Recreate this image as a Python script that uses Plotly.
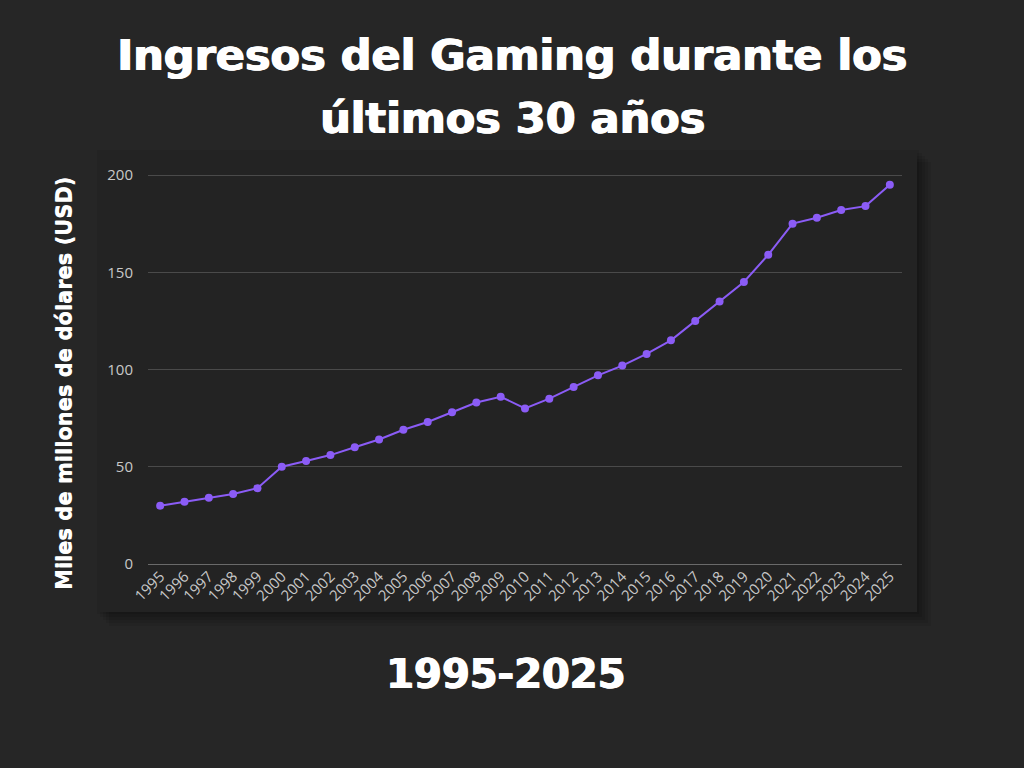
import plotly.graph_objects as go

years = [str(y) for y in range(1995, 2026)]
revenue = [30, 32, 34, 36, 39, 50, 53, 56, 60, 64, 69, 73, 78, 83, 86, 80,
           85, 91, 97, 102, 108, 115, 125, 135, 145, 159, 175, 178, 182, 184, 195]

title_lines = ["Ingresos del Gaming durante los", "últimos 30 años"]
y_title = "Miles de millones de dólares (USD)"
period = "1995-2025"

PAGE_BG = "#262626"
CARD_BG = "#232323"
PURPLE = "#8B5CF6"
HEAD_FONT = "DejaVu Sans"
W, H = 1024, 768
L, R, T, B = 148, 902, 165, 564  # plot area in pixels


def px2x(px):
    return (px - L) / (R - L)


def px2y(py):
    return (B - py) / (B - T)


fig = go.Figure()
fig.add_trace(go.Scatter(
    x=years, y=revenue, mode="lines+markers",
    line=dict(color=PURPLE, width=2),
    marker=dict(color=PURPLE, size=8),
    hoverinfo="x+y", showlegend=False))

# card with soft shadow
shapes = []
for i in range(5):
    off = 2 + i * 3
    shapes.append(dict(type="rect", xref="paper", yref="paper", layer="below",
                       x0=px2x(97 + off - 2), x1=px2x(917 + off),
                       y0=px2y(612 + off), y1=px2y(150 + off - 2),
                       fillcolor="rgba(0,0,0,0.08)", line_width=0))
shapes.append(dict(type="rect", xref="paper", yref="paper", layer="below",
                   x0=px2x(97), x1=px2x(917), y0=px2y(612), y1=px2y(150),
                   fillcolor=CARD_BG, line_width=0))

fig.update_layout(
    width=W, height=H,
    margin=dict(l=L, r=W - R, t=T, b=H - B, pad=0),
    paper_bgcolor=PAGE_BG, plot_bgcolor="rgba(0,0,0,0)",
    font=dict(family="Open Sans", color="#BBBBBB", size=13),
    shapes=shapes,
    hovermode="closest",
)
fig.update_xaxes(type="category", range=[-0.5, len(years) - 0.5],
                 showgrid=False, zeroline=False, showline=False,
                 tickangle=-45, ticks="", tickfont=dict(size=15, color="#C8C8C8"))
fig.update_yaxes(range=[0, (B - T) / 1.945], tickvals=[0, 50, 100, 150, 200],
                 showgrid=True, gridcolor="#4A4A4A", gridwidth=1,
                 zeroline=True, zerolinecolor="#6A6A6A", zerolinewidth=1,
                 showline=False, ticks="", ticklabelstandoff=14,
                 tickfont=dict(size=15, color="#C8C8C8"))

heavy = "1px 0px 0px white, -0.5px 0px 0px white"
for line, py in zip(title_lines, [55, 118]):
    fig.add_annotation(text=line, xref="paper", yref="paper",
                       x=px2x(512), y=px2y(py), showarrow=False,
                       xanchor="center", yanchor="middle",
                       font=dict(family=HEAD_FONT, size=43, color="white",
                                 weight="bold", shadow=heavy))
fig.add_annotation(text=y_title, xref="paper", yref="paper",
                   x=px2x(64), y=px2y(384), textangle=-90, showarrow=False,
                   xanchor="center", yanchor="middle",
                   font=dict(family=HEAD_FONT, size=21, color="white",
                             weight="bold", shadow="0px 0.6px 0px white"))
fig.add_annotation(text=period, xref="paper", yref="paper",
                   x=px2x(505), y=px2y(674), showarrow=False,
                   xanchor="center", yanchor="middle",
                   font=dict(family=HEAD_FONT, size=40, color="white",
                             weight="bold", shadow=heavy))

fig.write_html("out.html", config={"displayModeBar": False},
               post_script="document.body.style.margin='0';"
                           "document.body.style.overflow='hidden';")
